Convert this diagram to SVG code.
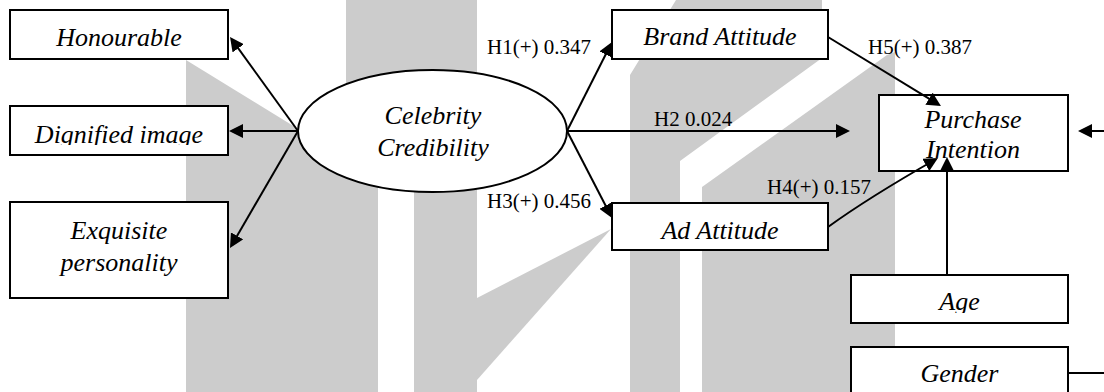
<svg xmlns="http://www.w3.org/2000/svg" width="1104" height="392" viewBox="0 0 1104 392">
<style>
.bg{fill:#cccccc;stroke:none}
.box{fill:#ffffff;stroke:#000000;stroke-width:2}
.node{font-family:"Liberation Serif","Times New Roman",serif;font-style:italic;font-size:26px;fill:#000000;text-anchor:middle}
.lbl{font-family:"Liberation Serif","Times New Roman",serif;font-size:21px;fill:#000000}
.edge{fill:none;stroke:#000000;stroke-width:2}
</style>
<defs>
<marker id="arr" markerUnits="userSpaceOnUse" markerWidth="15" markerHeight="14" refX="11" refY="7" orient="auto">
<path d="M0,0 L14,7 L0,14 z" fill="#000000"/>
</marker>
<clipPath id="clipDig"><rect x="10" y="106" width="218" height="39"/></clipPath>
<clipPath id="clipAge"><rect x="851" y="275" width="217" height="38"/></clipPath>
</defs>
<g id="watermark">
<polygon class="bg" points="186,60 378,178 378,392 186,392"/>
<rect class="bg" x="346" y="0" width="68" height="150"/>
<rect class="bg" x="414" y="0" width="63" height="392"/>
<polygon class="bg" points="477,298 611,229 477,380"/>
<polygon class="bg" points="676,0 822,0 822,58 680,161 680,392 630,392 630,75"/>
<polygon class="bg" points="702,187 887,55 895,52 895,392 702,392"/>
</g>
<g id="honourable">
<rect class="box" x="10" y="10" width="218" height="49"/>
<text class="node" x="119" y="45.5">Honourable</text>
</g>
<g id="dignified">
<rect class="box" x="10" y="106" width="218" height="49"/>
<text class="node" x="119" y="142.5" clip-path="url(#clipDig)">Dignified image</text>
</g>
<g id="exquisite">
<rect class="box" x="10" y="202" width="218" height="96"/>
<text class="node" x="119" y="239">Exquisite</text>
<text class="node" x="119" y="271">personality</text>
</g>
<g id="celebrity">
<ellipse cx="432.5" cy="131" rx="134.5" ry="61" fill="#ffffff" stroke="#000000" stroke-width="2"/>
<text class="node" x="433" y="124">Celebrity</text>
<text class="node" x="433" y="156">Credibility</text>
</g>
<g id="brand">
<rect class="box" x="612" y="10" width="216" height="49"/>
<text class="node" x="720" y="45">Brand Attitude</text>
</g>
<g id="ad">
<rect class="box" x="612" y="203" width="216" height="47"/>
<text class="node" x="720" y="239">Ad Attitude</text>
</g>
<g id="purchase">
<rect class="box" x="879" y="95" width="189" height="76"/>
<text class="node" x="973" y="127.5">Purchase</text>
<text class="node" x="973" y="157.5">Intention</text>
</g>
<g id="age">
<rect class="box" x="851" y="275" width="217" height="48"/>
<text class="node" x="959.5" y="310" clip-path="url(#clipAge)">Age</text>
</g>
<g id="gender">
<rect class="box" x="851" y="347" width="217" height="60"/>
<text class="node" x="959.5" y="382">Gender</text>
</g>
<g id="connectors">
<line class="edge" x1="298" y1="131" x2="231.8" y2="39.4" marker-end="url(#arr)"/>
<line class="edge" x1="298" y1="131" x2="232" y2="131" marker-end="url(#arr)"/>
<line class="edge" x1="298" y1="131" x2="231.5" y2="245.4" marker-end="url(#arr)"/>
<line class="edge" x1="567" y1="131" x2="610.6" y2="44.7" marker-end="url(#arr)"/>
<line class="edge" x1="567" y1="131" x2="847" y2="131" marker-end="url(#arr)"/>
<line class="edge" x1="567" y1="131" x2="610.6" y2="215.3" marker-end="url(#arr)"/>
<line class="edge" x1="828" y1="37" x2="938.4" y2="104.4" marker-end="url(#arr)"/>
<path class="edge" d="M828,227 Q868,198 935.4,159.5" marker-end="url(#arr)"/>
<line class="edge" x1="947" y1="275" x2="947" y2="160" marker-end="url(#arr)"/>
<line class="edge" x1="1104" y1="131" x2="1081" y2="131" marker-end="url(#arr)"/>
<line class="edge" x1="1068" y1="373" x2="1104" y2="373"/>
<text class="lbl" x="487" y="54">H1(+) 0.347</text>
<text class="lbl" x="654" y="126">H2 0.024</text>
<text class="lbl" x="487" y="208">H3(+) 0.456</text>
<text class="lbl" x="767" y="193.5">H4(+) 0.157</text>
<text class="lbl" x="868" y="54">H5(+) 0.387</text>
</g>
</svg>
